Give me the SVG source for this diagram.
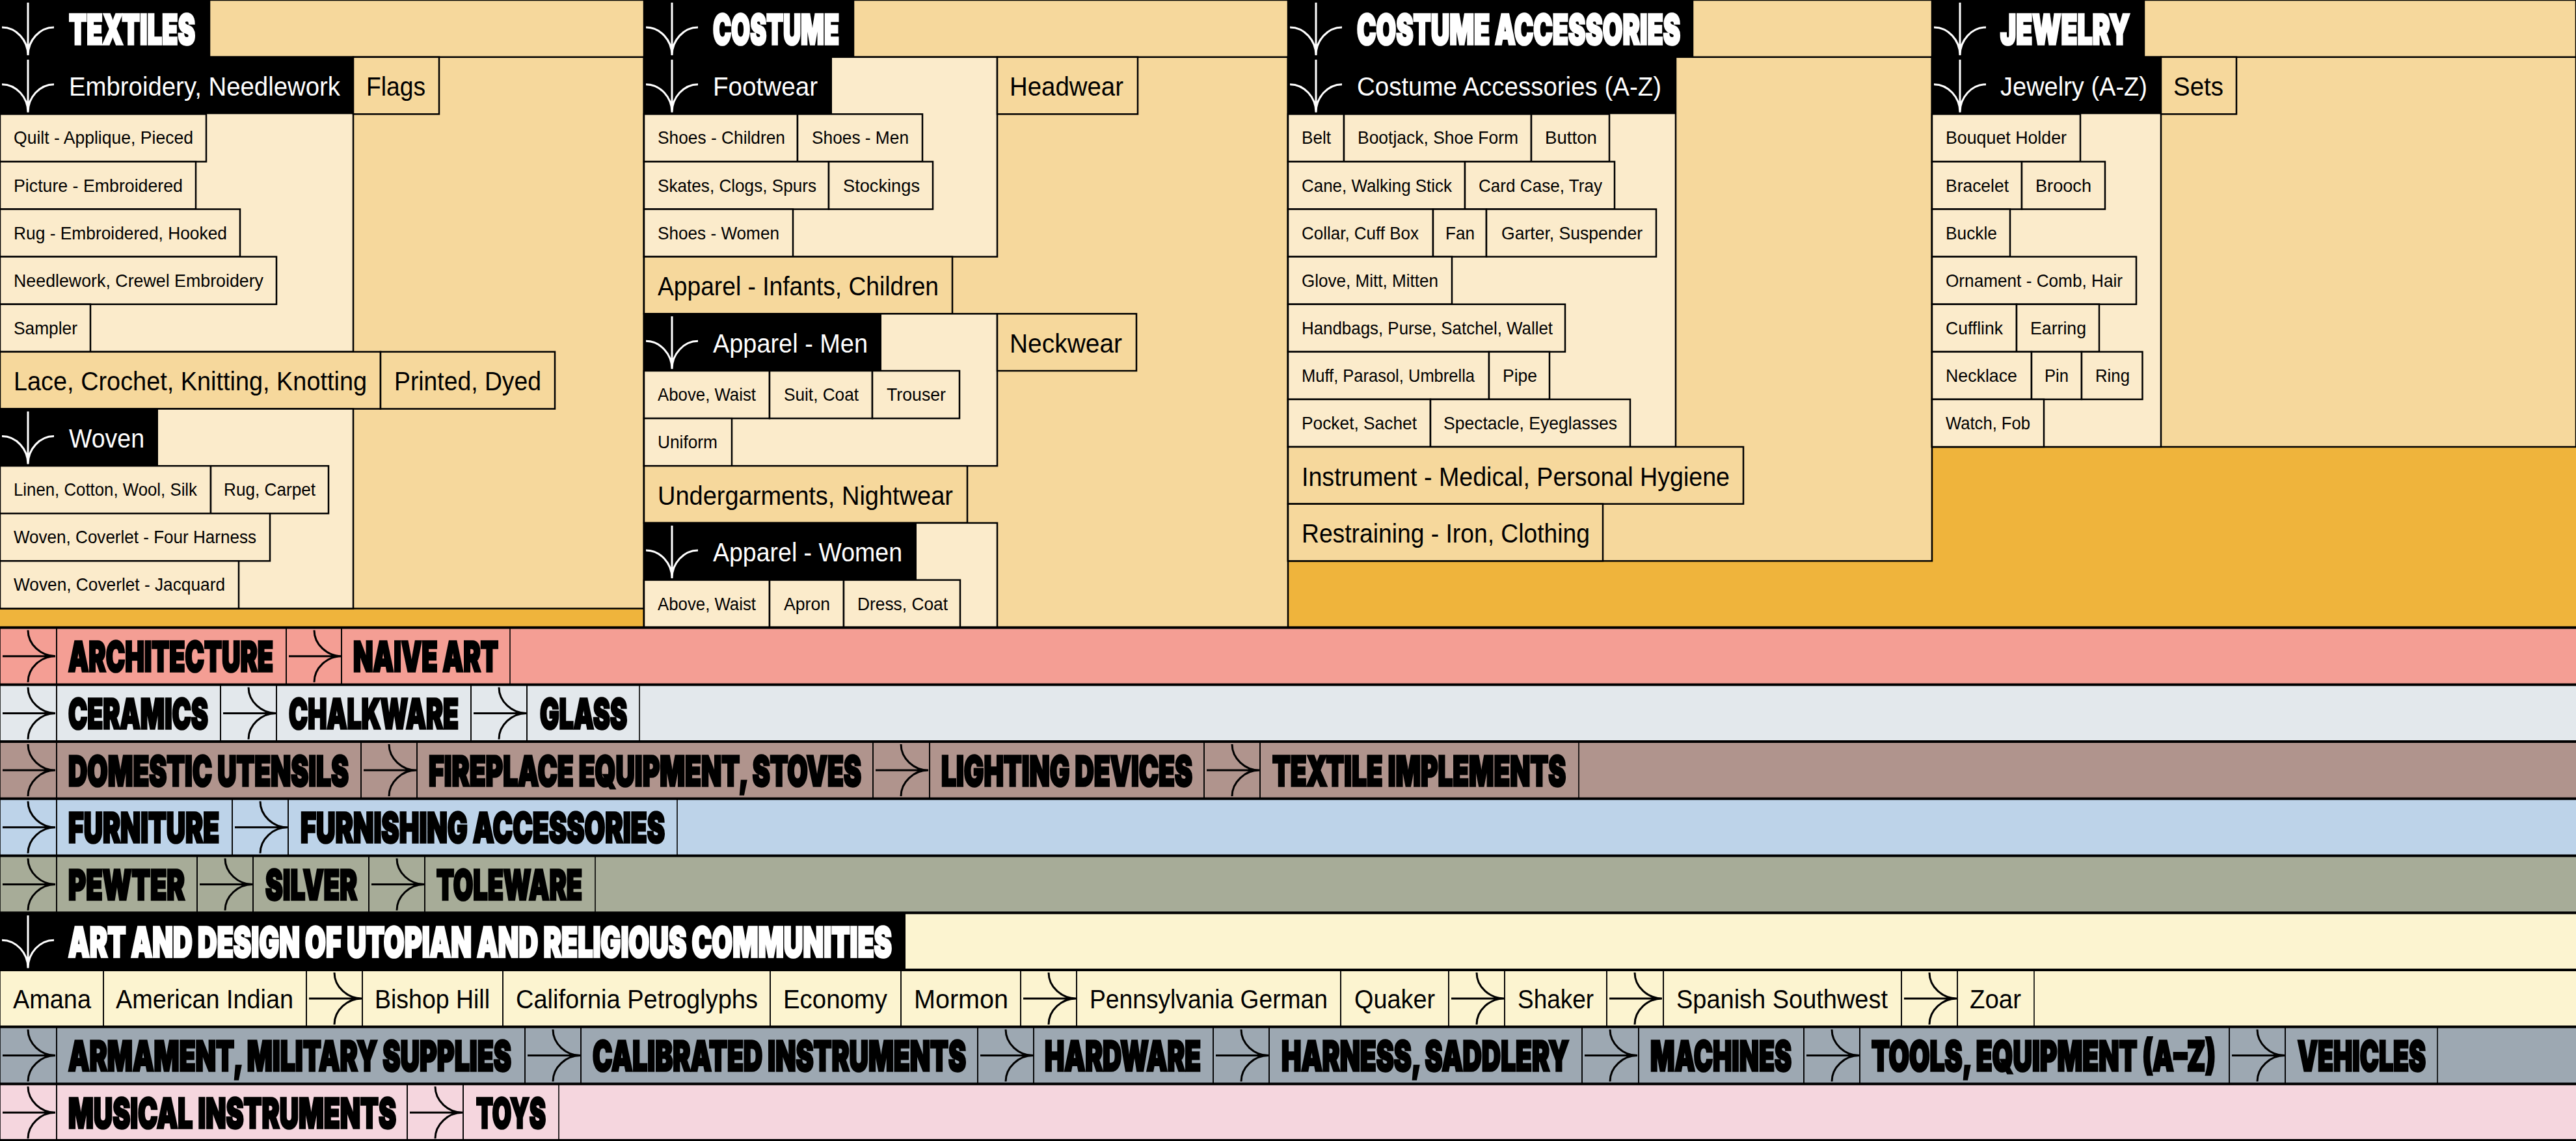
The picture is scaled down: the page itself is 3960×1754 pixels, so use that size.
<svg xmlns="http://www.w3.org/2000/svg" width="3960" height="1754" viewBox="0 0 3960 1754">
<defs>
<style>
.bg{fill:#EFB43C}
.med{fill:#F6D89C;stroke:#000;stroke-width:2.5}
.lt{fill:#FBEBCB;stroke:#000;stroke-width:2.5}
.blk{fill:#000}
.c{fill:none;stroke:#000;stroke-width:1.6}
.sep{stroke:#000;stroke-width:4}
text{font-family:'Liberation Sans',Arial,sans-serif;fill:#000}
.s{font-size:28px}
.m{font-size:40px}
.h{font-family:Inter,Roboto,'Liberation Sans',Arial,sans-serif;font-weight:900;font-size:63px;stroke:#000;stroke-width:3.5}
.h.w{stroke:#fff}
.w{fill:#fff}
.aw{fill:none;stroke:#fff;stroke-width:3}
.ab{fill:none;stroke:#000;stroke-width:3}
</style>
<path id="da" d="M43,4 V85 M3,42 C25,42 43,62 43,85 M83,42 C61,42 43,62 43,85"/>
<path id="ra" d="M4,44 H85 M43,4 C43,26 63,44 85,44 M43,84 C43,62 63,44 85,44"/>
</defs>

<rect class="bg" x="0" y="0" width="3960" height="965"/>

<!-- TEXTILES -->
<g id="textiles">
<rect class="med" x="0" y="87.7" width="990" height="847.74"/>
<rect class="blk" x="0" y="0" width="322" height="87.7"/>
<rect class="med" x="322" y="0" width="668" height="87.7"/>
<text class="h w" transform="translate(106 68) scale(0.6 1)" textLength="323.3" lengthAdjust="spacingAndGlyphs">TEXTILES</text>
</g>
<g id="embroidery">
<rect class="lt" x="0" y="87.7" width="543" height="453.1"/>
<rect class="blk" x="0" y="87.7" width="543" height="87.7"/>
<text class="m w" x="106" y="147.2" textLength="417" lengthAdjust="spacingAndGlyphs">Embroidery, Needlework</text>
</g>
<g id="flags"><rect class="med" x="543" y="87.7" width="132" height="87.7"/><text class="m" x="563" y="147.2" textLength="91" lengthAdjust="spacingAndGlyphs">Flags</text></g>
<g id="quilt"><rect class="lt" x="0" y="175.4" width="317" height="73.08"/><text class="s" x="21" y="221.4" textLength="276" lengthAdjust="spacingAndGlyphs">Quilt - Applique, Pieced</text></g>
<g id="picture"><rect class="lt" x="0" y="248.48" width="301" height="73.08"/><text class="s" x="21" y="294.5" textLength="260" lengthAdjust="spacingAndGlyphs">Picture - Embroidered</text></g>
<g id="rug-emb"><rect class="lt" x="0" y="321.56" width="369" height="73.08"/><text class="s" x="21" y="367.6" textLength="328" lengthAdjust="spacingAndGlyphs">Rug - Embroidered, Hooked</text></g>
<g id="needlework"><rect class="lt" x="0" y="394.64" width="425" height="73.08"/><text class="s" x="21" y="440.6" textLength="384" lengthAdjust="spacingAndGlyphs">Needlework, Crewel Embroidery</text></g>
<g id="sampler"><rect class="lt" x="0" y="467.72" width="139" height="73.08"/><text class="s" x="21" y="513.7" textLength="98" lengthAdjust="spacingAndGlyphs">Sampler</text></g>
<g id="lace"><rect class="med" x="0" y="540.8" width="585" height="87.7"/><text class="m" x="21" y="600.3" textLength="543" lengthAdjust="spacingAndGlyphs">Lace, Crochet, Knitting, Knotting</text></g>
<g id="printed"><rect class="med" x="585" y="540.8" width="268" height="87.7"/><text class="m" x="606" y="600.3" textLength="226" lengthAdjust="spacingAndGlyphs">Printed, Dyed</text></g>
<g id="woven">
<rect class="lt" x="0" y="628.5" width="543" height="306.94"/>
<rect class="blk" x="0" y="628.5" width="243" height="87.7"/>
<text class="m w" x="106" y="688" textLength="116" lengthAdjust="spacingAndGlyphs">Woven</text>
</g>
<g id="linen"><rect class="lt" x="0" y="716.2" width="324" height="73.08"/><text class="s" x="21" y="762.2" textLength="282" lengthAdjust="spacingAndGlyphs">Linen, Cotton, Wool, Silk</text></g>
<g id="rug-carpet"><rect class="lt" x="324" y="716.2" width="181" height="73.08"/><text class="s" x="344" y="762.2" textLength="141" lengthAdjust="spacingAndGlyphs">Rug, Carpet</text></g>
<g id="four-harness"><rect class="lt" x="0" y="789.28" width="415" height="73.08"/><text class="s" x="21" y="835.3" textLength="373" lengthAdjust="spacingAndGlyphs">Woven, Coverlet - Four Harness</text></g>
<g id="jacquard"><rect class="lt" x="0" y="862.36" width="367" height="73.08"/><text class="s" x="21" y="908.4" textLength="325" lengthAdjust="spacingAndGlyphs">Woven, Coverlet - Jacquard</text></g>

<!-- COSTUME -->
<g id="costume">
<rect class="med" x="990" y="87.7" width="990" height="876.98"/>
<rect class="blk" x="990" y="0" width="322" height="87.7"/>
<rect class="med" x="1312" y="0" width="668" height="87.7"/>
<text class="h w" transform="translate(1096 68) scale(0.6 1)" textLength="323.3" lengthAdjust="spacingAndGlyphs">COSTUME</text>
</g>
<g id="footwear">
<rect class="lt" x="990" y="87.7" width="543" height="306.94"/>
<rect class="blk" x="990" y="87.7" width="289" height="87.7"/>
<text class="m w" x="1096" y="147.2" textLength="161" lengthAdjust="spacingAndGlyphs">Footwear</text>
</g>
<g id="headwear"><rect class="med" x="1533" y="87.7" width="216" height="87.7"/><text class="m" x="1552" y="147.2" textLength="175" lengthAdjust="spacingAndGlyphs">Headwear</text></g>
<g id="shoes-children"><rect class="lt" x="990" y="175.4" width="236" height="73.08"/><text class="s" x="1011" y="221.4" textLength="196" lengthAdjust="spacingAndGlyphs">Shoes - Children</text></g>
<g id="shoes-men"><rect class="lt" x="1226" y="175.4" width="192" height="73.08"/><text class="s" x="1248" y="221.4" textLength="149" lengthAdjust="spacingAndGlyphs">Shoes - Men</text></g>
<g id="skates"><rect class="lt" x="990" y="248.48" width="284" height="73.08"/><text class="s" x="1011" y="294.5" textLength="244" lengthAdjust="spacingAndGlyphs">Skates, Clogs, Spurs</text></g>
<g id="stockings"><rect class="lt" x="1274" y="248.48" width="160" height="73.08"/><text class="s" x="1296" y="294.5" textLength="118" lengthAdjust="spacingAndGlyphs">Stockings</text></g>
<g id="shoes-women"><rect class="lt" x="990" y="321.56" width="229" height="73.08"/><text class="s" x="1011" y="367.6" textLength="187" lengthAdjust="spacingAndGlyphs">Shoes - Women</text></g>
<g id="apparel-infants"><rect class="med" x="990" y="394.64" width="474" height="87.7"/><text class="m" x="1011" y="454.1" textLength="432" lengthAdjust="spacingAndGlyphs">Apparel - Infants, Children</text></g>
<g id="apparel-men">
<rect class="lt" x="990" y="482.34" width="543" height="233.86"/>
<rect class="blk" x="990" y="482.34" width="365" height="87.7"/>
<text class="m w" x="1096" y="541.8" textLength="238" lengthAdjust="spacingAndGlyphs">Apparel - Men</text>
</g>
<g id="neckwear"><rect class="med" x="1533" y="482.34" width="214" height="87.7"/><text class="m" x="1552" y="541.8" textLength="173" lengthAdjust="spacingAndGlyphs">Neckwear</text></g>
<g id="men-above"><rect class="lt" x="990" y="570.04" width="193" height="73.08"/><text class="s" x="1011" y="616" textLength="151" lengthAdjust="spacingAndGlyphs">Above, Waist</text></g>
<g id="suit"><rect class="lt" x="1183" y="570.04" width="158" height="73.08"/><text class="s" x="1205" y="616" textLength="115" lengthAdjust="spacingAndGlyphs">Suit, Coat</text></g>
<g id="trouser"><rect class="lt" x="1341" y="570.04" width="134" height="73.08"/><text class="s" x="1363" y="616" textLength="91" lengthAdjust="spacingAndGlyphs">Trouser</text></g>
<g id="uniform"><rect class="lt" x="990" y="643.12" width="135" height="73.08"/><text class="s" x="1011" y="689.1" textLength="92" lengthAdjust="spacingAndGlyphs">Uniform</text></g>
<g id="undergarments"><rect class="med" x="990" y="716.2" width="497" height="87.7"/><text class="m" x="1011" y="775.7" textLength="454" lengthAdjust="spacingAndGlyphs">Undergarments, Nightwear</text></g>
<g id="apparel-women">
<rect class="lt" x="990" y="803.9" width="543" height="160.78"/>
<rect class="blk" x="990" y="803.9" width="419" height="87.7"/>
<text class="m w" x="1096" y="863.4" textLength="291" lengthAdjust="spacingAndGlyphs">Apparel - Women</text>
</g>
<g id="women-above"><rect class="lt" x="990" y="891.6" width="193" height="73.08"/><text class="s" x="1011" y="937.6" textLength="151" lengthAdjust="spacingAndGlyphs">Above, Waist</text></g>
<g id="apron"><rect class="lt" x="1183" y="891.6" width="114" height="73.08"/><text class="s" x="1205" y="937.6" textLength="71" lengthAdjust="spacingAndGlyphs">Apron</text></g>
<g id="dress"><rect class="lt" x="1297" y="891.6" width="179" height="73.08"/><text class="s" x="1318" y="937.6" textLength="139" lengthAdjust="spacingAndGlyphs">Dress, Coat</text></g>

<!-- COSTUME ACCESSORIES -->
<g id="costume-accessories">
<rect class="med" x="1980" y="87.7" width="990" height="774.66"/>
<rect class="blk" x="1980" y="0" width="622" height="87.7"/>
<rect class="med" x="2602" y="0" width="368" height="87.7"/>
<text class="h w" transform="translate(2086 68) scale(0.6 1)" textLength="828.3" lengthAdjust="spacingAndGlyphs">COSTUME ACCESSORIES</text>
</g>
<g id="costume-accessories-az">
<rect class="lt" x="1980" y="87.7" width="596" height="599.26"/>
<rect class="blk" x="1980" y="87.7" width="596" height="87.7"/>
<text class="m w" x="2086" y="147.2" textLength="468" lengthAdjust="spacingAndGlyphs">Costume Accessories (A-Z)</text>
</g>
<g id="belt"><rect class="lt" x="1980" y="175.4" width="86" height="73.08"/><text class="s" x="2001" y="221.4" textLength="45" lengthAdjust="spacingAndGlyphs">Belt</text></g>
<g id="bootjack"><rect class="lt" x="2066" y="175.4" width="288" height="73.08"/><text class="s" x="2087" y="221.4" textLength="247" lengthAdjust="spacingAndGlyphs">Bootjack, Shoe Form</text></g>
<g id="button"><rect class="lt" x="2354" y="175.4" width="120" height="73.08"/><text class="s" x="2375" y="221.4" textLength="80" lengthAdjust="spacingAndGlyphs">Button</text></g>
<g id="cane"><rect class="lt" x="1980" y="248.48" width="272" height="73.08"/><text class="s" x="2001" y="294.5" textLength="231" lengthAdjust="spacingAndGlyphs">Cane, Walking Stick</text></g>
<g id="card-case"><rect class="lt" x="2252" y="248.48" width="230" height="73.08"/><text class="s" x="2273" y="294.5" textLength="190" lengthAdjust="spacingAndGlyphs">Card Case, Tray</text></g>
<g id="collar"><rect class="lt" x="1980" y="321.56" width="223" height="73.08"/><text class="s" x="2001" y="367.6" textLength="180" lengthAdjust="spacingAndGlyphs">Collar, Cuff Box</text></g>
<g id="fan"><rect class="lt" x="2203" y="321.56" width="82" height="73.08"/><text class="s" x="2222" y="367.6" textLength="45" lengthAdjust="spacingAndGlyphs">Fan</text></g>
<g id="garter"><rect class="lt" x="2285" y="321.56" width="261" height="73.08"/><text class="s" x="2308" y="367.6" textLength="217" lengthAdjust="spacingAndGlyphs">Garter, Suspender</text></g>
<g id="glove"><rect class="lt" x="1980" y="394.64" width="252" height="73.08"/><text class="s" x="2001" y="440.6" textLength="210" lengthAdjust="spacingAndGlyphs">Glove, Mitt, Mitten</text></g>
<g id="handbags"><rect class="lt" x="1980" y="467.72" width="426" height="73.08"/><text class="s" x="2001" y="513.7" textLength="386" lengthAdjust="spacingAndGlyphs">Handbags, Purse, Satchel, Wallet</text></g>
<g id="muff"><rect class="lt" x="1980" y="540.8" width="309" height="73.08"/><text class="s" x="2001" y="586.8" textLength="266" lengthAdjust="spacingAndGlyphs">Muff, Parasol, Umbrella</text></g>
<g id="pipe"><rect class="lt" x="2289" y="540.8" width="93" height="73.08"/><text class="s" x="2310" y="586.8" textLength="53" lengthAdjust="spacingAndGlyphs">Pipe</text></g>
<g id="pocket"><rect class="lt" x="1980" y="613.88" width="219" height="73.08"/><text class="s" x="2001" y="659.9" textLength="177" lengthAdjust="spacingAndGlyphs">Pocket, Sachet</text></g>
<g id="spectacle"><rect class="lt" x="2199" y="613.88" width="307" height="73.08"/><text class="s" x="2219" y="659.9" textLength="267" lengthAdjust="spacingAndGlyphs">Spectacle, Eyeglasses</text></g>
<g id="instrument"><rect class="med" x="1980" y="686.96" width="700" height="87.7"/><text class="m" x="2001" y="746.5" textLength="658" lengthAdjust="spacingAndGlyphs">Instrument - Medical, Personal Hygiene</text></g>
<g id="restraining"><rect class="med" x="1980" y="774.66" width="484" height="87.7"/><text class="m" x="2001" y="834.2" textLength="443" lengthAdjust="spacingAndGlyphs">Restraining - Iron, Clothing</text></g>

<!-- JEWELRY -->
<g id="jewelry">
<rect class="med" x="2970" y="87.7" width="990" height="599.26"/>
<rect class="blk" x="2970" y="0" width="326" height="87.7"/>
<rect class="med" x="3296" y="0" width="664" height="87.7"/>
<text class="h w" transform="translate(3075 68) scale(0.6 1)" textLength="331.7" lengthAdjust="spacingAndGlyphs">JEWELRY</text>
</g>
<g id="jewelry-az">
<rect class="lt" x="2970" y="87.7" width="352" height="599.26"/>
<rect class="blk" x="2970" y="87.7" width="352" height="87.7"/>
<text class="m w" x="3075" y="147.2" textLength="226" lengthAdjust="spacingAndGlyphs">Jewelry (A-Z)</text>
</g>
<g id="sets"><rect class="med" x="3322" y="87.7" width="116" height="87.7"/><text class="m" x="3341" y="147.2" textLength="77" lengthAdjust="spacingAndGlyphs">Sets</text></g>
<g id="bouquet"><rect class="lt" x="2970" y="175.4" width="228" height="73.08"/><text class="s" x="2991" y="221.4" textLength="186" lengthAdjust="spacingAndGlyphs">Bouquet Holder</text></g>
<g id="bracelet"><rect class="lt" x="2970" y="248.48" width="138" height="73.08"/><text class="s" x="2991" y="294.5" textLength="97" lengthAdjust="spacingAndGlyphs">Bracelet</text></g>
<g id="brooch"><rect class="lt" x="3108" y="248.48" width="128" height="73.08"/><text class="s" x="3129" y="294.5" textLength="86" lengthAdjust="spacingAndGlyphs">Brooch</text></g>
<g id="buckle"><rect class="lt" x="2970" y="321.56" width="120" height="73.08"/><text class="s" x="2991" y="367.6" textLength="79" lengthAdjust="spacingAndGlyphs">Buckle</text></g>
<g id="ornament"><rect class="lt" x="2970" y="394.64" width="314" height="73.08"/><text class="s" x="2991" y="440.6" textLength="272" lengthAdjust="spacingAndGlyphs">Ornament - Comb, Hair</text></g>
<g id="cufflink"><rect class="lt" x="2970" y="467.72" width="130" height="73.08"/><text class="s" x="2991" y="513.7" textLength="88" lengthAdjust="spacingAndGlyphs">Cufflink</text></g>
<g id="earring"><rect class="lt" x="3100" y="467.72" width="127" height="73.08"/><text class="s" x="3121" y="513.7" textLength="86" lengthAdjust="spacingAndGlyphs">Earring</text></g>
<g id="necklace"><rect class="lt" x="2970" y="540.8" width="153" height="73.08"/><text class="s" x="2991" y="586.8" textLength="110" lengthAdjust="spacingAndGlyphs">Necklace</text></g>
<g id="pin"><rect class="lt" x="3123" y="540.8" width="77" height="73.08"/><text class="s" x="3143" y="586.8" textLength="37" lengthAdjust="spacingAndGlyphs">Pin</text></g>
<g id="ring"><rect class="lt" x="3200" y="540.8" width="93.5" height="73.08"/><text class="s" x="3221" y="586.8" textLength="53" lengthAdjust="spacingAndGlyphs">Ring</text></g>
<g id="watch"><rect class="lt" x="2970" y="613.88" width="172" height="73.08"/><text class="s" x="2991" y="659.9" textLength="130" lengthAdjust="spacingAndGlyphs">Watch, Fob</text></g>

<!-- BANDS -->
<g id="band-backgrounds">
<rect x="0" y="964.68" width="3960" height="87.7" fill="#F49E94"/>
<rect x="0" y="1052.38" width="3960" height="87.7" fill="#E3E8EC"/>
<rect x="0" y="1140.08" width="3960" height="87.7" fill="#B0948D"/>
<rect x="0" y="1227.78" width="3960" height="87.7" fill="#BDD3E9"/>
<rect x="0" y="1315.48" width="3960" height="87.7" fill="#A7AC98"/>
<rect x="0" y="1403.18" width="3960" height="87.7" fill="#FCF4D0"/>
<rect x="0" y="1490.88" width="3960" height="87.7" fill="#FCF4D0"/>
<rect x="0" y="1578.58" width="3960" height="87.7" fill="#9DA8B2"/>
<rect x="0" y="1666.28" width="3960" height="87.72" fill="#F5D6DE"/>
</g>

<g id="band1">
<rect class="c" x="0" y="964.68" width="87" height="87.7"/>
<g id="architecture"><rect class="c" x="87" y="964.68" width="353" height="87.7"/><text class="h" transform="translate(105 1032.2) scale(0.6 1)" textLength="525" lengthAdjust="spacingAndGlyphs">ARCHITECTURE</text></g>
<rect class="c" x="440" y="964.68" width="85" height="87.7"/>
<g id="naive-art"><rect class="c" x="525" y="964.68" width="259" height="87.7"/><text class="h" transform="translate(543 1032.2) scale(0.6 1)" textLength="371.7" lengthAdjust="spacingAndGlyphs">NAIVE ART</text></g>
</g>
<g id="band2">
<rect class="c" x="0" y="1052.38" width="87" height="87.7"/>
<g id="ceramics"><rect class="c" x="87" y="1052.38" width="252" height="87.7"/><text class="h" transform="translate(105 1119.9) scale(0.6 1)" textLength="358.3" lengthAdjust="spacingAndGlyphs">CERAMICS</text></g>
<rect class="c" x="339" y="1052.38" width="86" height="87.7"/>
<g id="chalkware"><rect class="c" x="425" y="1052.38" width="299" height="87.7"/><text class="h" transform="translate(444 1119.9) scale(0.6 1)" textLength="435" lengthAdjust="spacingAndGlyphs">CHALKWARE</text></g>
<rect class="c" x="724" y="1052.38" width="86" height="87.7"/>
<g id="glass"><rect class="c" x="810" y="1052.38" width="173" height="87.7"/><text class="h" transform="translate(830 1119.9) scale(0.6 1)" textLength="223.3" lengthAdjust="spacingAndGlyphs">GLASS</text></g>
</g>
<g id="band3">
<rect class="c" x="0" y="1140.08" width="87" height="87.7"/>
<g id="domestic"><rect class="c" x="87" y="1140.08" width="468" height="87.7"/><text class="h" transform="translate(105 1207.6) scale(0.6 1)" textLength="718.3" lengthAdjust="spacingAndGlyphs">DOMESTIC UTENSILS</text></g>
<rect class="c" x="555" y="1140.08" width="86" height="87.7"/>
<g id="fireplace"><rect class="c" x="641" y="1140.08" width="701" height="87.7"/><text class="h" transform="translate(659 1207.6) scale(0.6 1)" textLength="1108.3" lengthAdjust="spacingAndGlyphs">FIREPLACE EQUIPMENT, STOVES</text></g>
<rect class="c" x="1342" y="1140.08" width="87" height="87.7"/>
<g id="lighting"><rect class="c" x="1429" y="1140.08" width="422" height="87.7"/><text class="h" transform="translate(1447 1207.6) scale(0.6 1)" textLength="643.3" lengthAdjust="spacingAndGlyphs">LIGHTING DEVICES</text></g>
<rect class="c" x="1851" y="1140.08" width="86" height="87.7"/>
<g id="textile-implements"><rect class="c" x="1937" y="1140.08" width="490" height="87.7"/><text class="h" transform="translate(1956 1207.6) scale(0.6 1)" textLength="751.7" lengthAdjust="spacingAndGlyphs">TEXTILE IMPLEMENTS</text></g>
</g>
<g id="band4">
<rect class="c" x="0" y="1227.78" width="87" height="87.7"/>
<g id="furniture"><rect class="c" x="87" y="1227.78" width="270" height="87.7"/><text class="h" transform="translate(105 1295.3) scale(0.6 1)" textLength="386.7" lengthAdjust="spacingAndGlyphs">FURNITURE</text></g>
<rect class="c" x="357" y="1227.78" width="86" height="87.7"/>
<g id="furnishing"><rect class="c" x="443" y="1227.78" width="598" height="87.7"/><text class="h" transform="translate(462 1295.3) scale(0.6 1)" textLength="933.3" lengthAdjust="spacingAndGlyphs">FURNISHING ACCESSORIES</text></g>
</g>
<g id="band5">
<rect class="c" x="0" y="1315.48" width="87" height="87.7"/>
<g id="pewter"><rect class="c" x="87" y="1315.48" width="216" height="87.7"/><text class="h" transform="translate(105 1383) scale(0.6 1)" textLength="298.3" lengthAdjust="spacingAndGlyphs">PEWTER</text></g>
<rect class="c" x="303" y="1315.48" width="86" height="87.7"/>
<g id="silver"><rect class="c" x="389" y="1315.48" width="178" height="87.7"/><text class="h" transform="translate(408 1383) scale(0.6 1)" textLength="235" lengthAdjust="spacingAndGlyphs">SILVER</text></g>
<rect class="c" x="567" y="1315.48" width="86" height="87.7"/>
<g id="toleware"><rect class="c" x="653" y="1315.48" width="262" height="87.7"/><text class="h" transform="translate(671 1383) scale(0.6 1)" textLength="373.3" lengthAdjust="spacingAndGlyphs">TOLEWARE</text></g>
</g>
<g id="utopian">
<rect class="blk" x="0" y="1403.18" width="1392" height="87.7"/>
<text class="h w" transform="translate(105 1470.7) scale(0.6 1)" textLength="2110" lengthAdjust="spacingAndGlyphs">ART AND DESIGN OF UTOPIAN AND RELIGIOUS COMMUNITIES</text>
</g>
<g id="band7">
<g id="amana"><rect class="c" x="0" y="1490.88" width="159" height="87.7"/><text class="m" x="20" y="1549.9" textLength="120" lengthAdjust="spacingAndGlyphs">Amana</text></g>
<g id="american-indian"><rect class="c" x="159" y="1490.88" width="312" height="87.7"/><text class="m" x="178" y="1549.9" textLength="273" lengthAdjust="spacingAndGlyphs">American Indian</text></g>
<rect class="c" x="471" y="1490.88" width="86" height="87.7"/>
<g id="bishop-hill"><rect class="c" x="557" y="1490.88" width="216" height="87.7"/><text class="m" x="576" y="1549.9" textLength="177" lengthAdjust="spacingAndGlyphs">Bishop Hill</text></g>
<g id="california"><rect class="c" x="773" y="1490.88" width="411" height="87.7"/><text class="m" x="793" y="1549.9" textLength="372" lengthAdjust="spacingAndGlyphs">California Petroglyphs</text></g>
<g id="economy"><rect class="c" x="1184" y="1490.88" width="201" height="87.7"/><text class="m" x="1204" y="1549.9" textLength="160" lengthAdjust="spacingAndGlyphs">Economy</text></g>
<g id="mormon"><rect class="c" x="1385" y="1490.88" width="184" height="87.7"/><text class="m" x="1405" y="1549.9" textLength="145" lengthAdjust="spacingAndGlyphs">Mormon</text></g>
<rect class="c" x="1569" y="1490.88" width="86" height="87.7"/>
<g id="pennsylvania"><rect class="c" x="1655" y="1490.88" width="406" height="87.7"/><text class="m" x="1675" y="1549.9" textLength="366" lengthAdjust="spacingAndGlyphs">Pennsylvania German</text></g>
<g id="quaker"><rect class="c" x="2061" y="1490.88" width="166" height="87.7"/><text class="m" x="2082" y="1549.9" textLength="124" lengthAdjust="spacingAndGlyphs">Quaker</text></g>
<rect class="c" x="2227" y="1490.88" width="86" height="87.7"/>
<g id="shaker"><rect class="c" x="2313" y="1490.88" width="157" height="87.7"/><text class="m" x="2333" y="1549.9" textLength="117" lengthAdjust="spacingAndGlyphs">Shaker</text></g>
<rect class="c" x="2470" y="1490.88" width="87" height="87.7"/>
<g id="spanish"><rect class="c" x="2557" y="1490.88" width="366" height="87.7"/><text class="m" x="2577" y="1549.9" textLength="325" lengthAdjust="spacingAndGlyphs">Spanish Southwest</text></g>
<rect class="c" x="2923" y="1490.88" width="86" height="87.7"/>
<g id="zoar"><rect class="c" x="3009" y="1490.88" width="118" height="87.7"/><text class="m" x="3028" y="1549.9" textLength="79" lengthAdjust="spacingAndGlyphs">Zoar</text></g>
</g>
<g id="band8">
<rect class="c" x="0" y="1578.58" width="87" height="87.7"/>
<g id="armament"><rect class="c" x="87" y="1578.58" width="720" height="87.7"/><text class="h" transform="translate(105 1646.1) scale(0.6 1)" textLength="1135" lengthAdjust="spacingAndGlyphs">ARMAMENT, MILITARY SUPPLIES</text></g>
<rect class="c" x="807" y="1578.58" width="86" height="87.7"/>
<g id="calibrated"><rect class="c" x="893" y="1578.58" width="610" height="87.7"/><text class="h" transform="translate(911 1646.1) scale(0.6 1)" textLength="956.7" lengthAdjust="spacingAndGlyphs">CALIBRATED INSTRUMENTS</text></g>
<rect class="c" x="1503" y="1578.58" width="86" height="87.7"/>
<g id="hardware"><rect class="c" x="1589" y="1578.58" width="276" height="87.7"/><text class="h" transform="translate(1606 1646.1) scale(0.6 1)" textLength="400" lengthAdjust="spacingAndGlyphs">HARDWARE</text></g>
<rect class="c" x="1865" y="1578.58" width="86" height="87.7"/>
<g id="harness"><rect class="c" x="1951" y="1578.58" width="481" height="87.7"/><text class="h" transform="translate(1970 1646.1) scale(0.6 1)" textLength="736.7" lengthAdjust="spacingAndGlyphs">HARNESS, SADDLERY</text></g>
<rect class="c" x="2432" y="1578.58" width="87" height="87.7"/>
<g id="machines"><rect class="c" x="2519" y="1578.58" width="254" height="87.7"/><text class="h" transform="translate(2537 1646.1) scale(0.6 1)" textLength="361.7" lengthAdjust="spacingAndGlyphs">MACHINES</text></g>
<rect class="c" x="2773" y="1578.58" width="86" height="87.7"/>
<g id="tools"><rect class="c" x="2859" y="1578.58" width="568" height="87.7"/><text class="h" transform="translate(2877 1646.1) scale(0.6 1)" textLength="881.7" lengthAdjust="spacingAndGlyphs">TOOLS, EQUIPMENT (A–Z)</text></g>
<rect class="c" x="3427" y="1578.58" width="86" height="87.7"/>
<g id="vehicles"><rect class="c" x="3513" y="1578.58" width="234" height="87.7"/><text class="h" transform="translate(3532 1646.1) scale(0.6 1)" textLength="328.3" lengthAdjust="spacingAndGlyphs">VEHICLES</text></g>
</g>
<g id="band9">
<rect class="c" x="0" y="1666.28" width="87" height="87.7"/>
<g id="musical"><rect class="c" x="87" y="1666.28" width="539" height="87.7"/><text class="h" transform="translate(105 1733.8) scale(0.6 1)" textLength="840" lengthAdjust="spacingAndGlyphs">MUSICAL INSTRUMENTS</text></g>
<rect class="c" x="626" y="1666.28" width="86" height="87.7"/>
<g id="toys"><rect class="c" x="712" y="1666.28" width="147" height="87.7"/><text class="h" transform="translate(732 1733.8) scale(0.6 1)" textLength="178.3" lengthAdjust="spacingAndGlyphs">TOYS</text></g>
</g>

<g id="separators">
<line class="sep" x1="0" y1="964.68" x2="3960" y2="964.68"/>
<line class="sep" x1="0" y1="1052.38" x2="3960" y2="1052.38"/>
<line class="sep" x1="0" y1="1140.08" x2="3960" y2="1140.08"/>
<line class="sep" x1="0" y1="1227.78" x2="3960" y2="1227.78"/>
<line class="sep" x1="0" y1="1315.48" x2="3960" y2="1315.48"/>
<line class="sep" x1="0" y1="1403.18" x2="3960" y2="1403.18"/>
<line class="sep" x1="0" y1="1490.88" x2="3960" y2="1490.88"/>
<line class="sep" x1="0" y1="1578.58" x2="3960" y2="1578.58"/>
<line class="sep" x1="0" y1="1666.28" x2="3960" y2="1666.28"/>
<line class="sep" x1="0" y1="1753" x2="3960" y2="1753"/>
</g>

<g id="connectors">
<use href="#da" class="aw" x="0" y="0"/>
<use href="#da" class="aw" x="0" y="87.7"/>
<use href="#da" class="aw" x="0" y="628.5"/>
<use href="#da" class="aw" x="990" y="0"/>
<use href="#da" class="aw" x="990" y="87.7"/>
<use href="#da" class="aw" x="990" y="482.34"/>
<use href="#da" class="aw" x="990" y="803.9"/>
<use href="#da" class="aw" x="1980" y="0"/>
<use href="#da" class="aw" x="1980" y="87.7"/>
<use href="#da" class="aw" x="2970" y="0"/>
<use href="#da" class="aw" x="2970" y="87.7"/>
<use href="#da" class="aw" x="0" y="1403.18"/>
<use href="#ra" class="ab" x="0" y="964.68"/>
<use href="#ra" class="ab" x="440" y="964.68"/>
<use href="#ra" class="ab" x="0" y="1052.38"/>
<use href="#ra" class="ab" x="339" y="1052.38"/>
<use href="#ra" class="ab" x="724" y="1052.38"/>
<use href="#ra" class="ab" x="0" y="1140.08"/>
<use href="#ra" class="ab" x="555" y="1140.08"/>
<use href="#ra" class="ab" x="1342" y="1140.08"/>
<use href="#ra" class="ab" x="1851" y="1140.08"/>
<use href="#ra" class="ab" x="0" y="1227.78"/>
<use href="#ra" class="ab" x="357" y="1227.78"/>
<use href="#ra" class="ab" x="0" y="1315.48"/>
<use href="#ra" class="ab" x="303" y="1315.48"/>
<use href="#ra" class="ab" x="567" y="1315.48"/>
<use href="#ra" class="ab" x="471" y="1490.88"/>
<use href="#ra" class="ab" x="1569" y="1490.88"/>
<use href="#ra" class="ab" x="2227" y="1490.88"/>
<use href="#ra" class="ab" x="2470" y="1490.88"/>
<use href="#ra" class="ab" x="2923" y="1490.88"/>
<use href="#ra" class="ab" x="0" y="1578.58"/>
<use href="#ra" class="ab" x="807" y="1578.58"/>
<use href="#ra" class="ab" x="1503" y="1578.58"/>
<use href="#ra" class="ab" x="1865" y="1578.58"/>
<use href="#ra" class="ab" x="2432" y="1578.58"/>
<use href="#ra" class="ab" x="2773" y="1578.58"/>
<use href="#ra" class="ab" x="3427" y="1578.58"/>
<use href="#ra" class="ab" x="0" y="1666.28"/>
<use href="#ra" class="ab" x="626" y="1666.28"/>
</g>
</svg>
